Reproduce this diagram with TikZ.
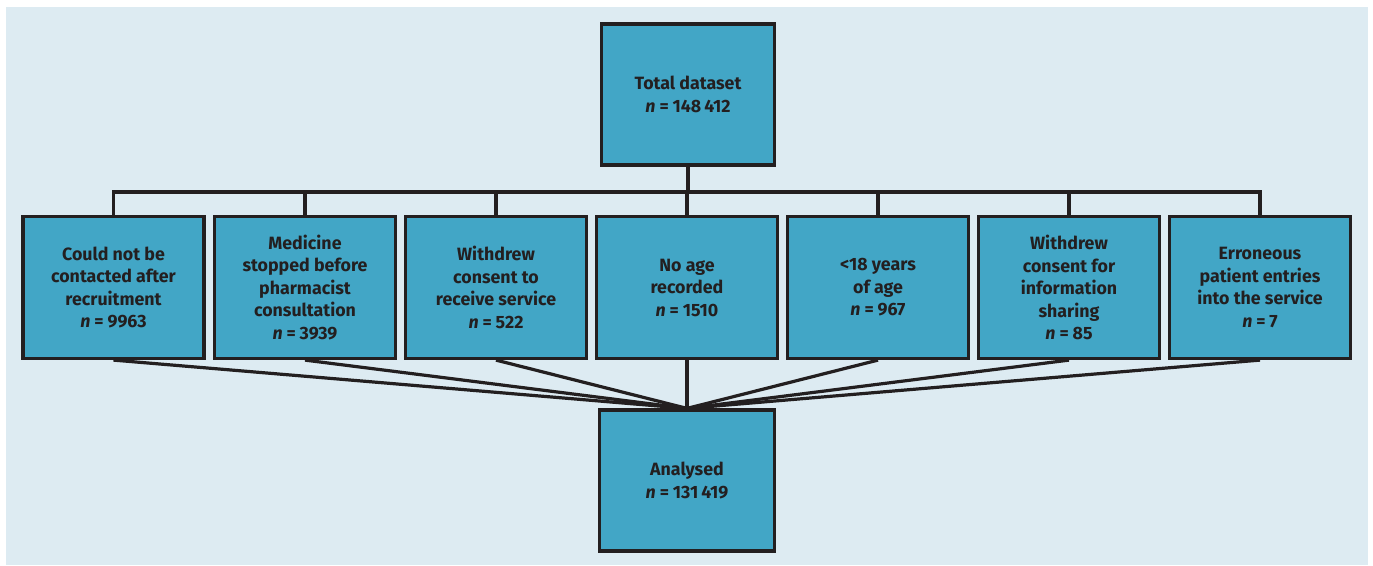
\documentclass[tikz,border=0pt]{standalone}
\usepackage{fontspec}
\setmainfont{Fira Sans}
\definecolor{bgc}{HTML}{DDEBF2}
\definecolor{boxc}{HTML}{42A6C6}
\definecolor{inkc}{HTML}{231F20}
\newcommand{\nn}{\textit{n}\hspace{0.22em}=\hspace{0.22em}}
\begin{document}
\begin{tikzpicture}[x=1pt,y=-1pt,
  box/.style={draw=inkc,fill=boxc,line width=3.2pt,text=inkc,align=center,
    font=\bfseries\fontsize{17.8}{22.5}\selectfont,inner sep=0pt},
  side/.style={box,minimum width=181pt,minimum height=142pt},
  big/.style={box,minimum width=173pt,minimum height=141pt},
  conn/.style={draw=inkc,line width=3.2pt}]
\useasboundingbox (0,0) rectangle (1373,565);
\fill[bgc] (6,7) rectangle (1368,565);
\node[big] (top) at (688,94.5) {Total dataset\\\nn 148\,412};
\node[big,minimum width=175pt] (bot) at (687,480.5) {Analysed\\\nn 131\,419};
\node[side] (b1) at (113.5,287.5) {Could not be\\contacted after\\recruitment\\\nn 9963};
\node[side] (b2) at (305,287.5) {Medicine\\stopped before\\pharmacist\\consultation\\\nn 3939};
\node[side] (b3) at (496,287.5) {Withdrew\\consent to\\receive service\\\nn 522};
\node[side] (b4) at (687,287.5) {No age\\recorded\\\nn 1510};
\node[side] (b5) at (878,287.5) {<18 years\\of age\\\nn 967};
\node[side] (b6) at (1069,287.5) {Withdrew\\consent for\\information\\sharing\\\nn 85};
\node[side] (b7) at (1260,287.5) {Erroneous\\patient entries\\into the service\\\nn 7};
\coordinate (bus) at (688,192);
\draw[conn] (top.south) -- (bus);
\draw[conn,line cap=rect] (b1.north) |- (b7.north |- bus) -- (b7.north);
\foreach \b in {b2,b3,b4,b5,b6}{
  \draw[conn] (\b.north) -- (\b.north |- bus);
}
\foreach \b in {b1,b2,b3,b4,b5,b6,b7}{
  \draw[conn] (\b.south) -- (bot.north);
}
\end{tikzpicture}
\end{document}
